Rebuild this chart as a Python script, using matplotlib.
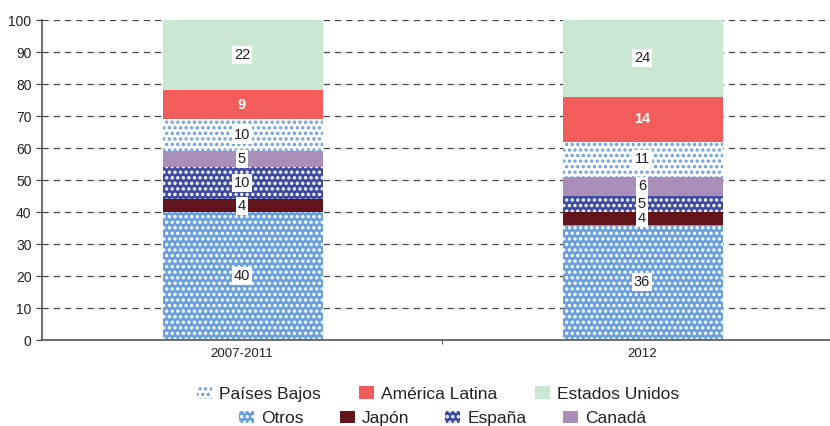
import matplotlib.pyplot as plt
from matplotlib.patches import Patch

plt.rcParams['font.family'] = ['Liberation Sans', 'DejaVu Sans']
plt.rcParams['hatch.linewidth'] = 1.6

periods = ['2007-2011', '2012']
series = ['Otros', 'Japón', 'España', 'Canadá', 'Países Bajos', 'América Latina', 'Estados Unidos']
otros = [40, 36]
japon = [4, 4]
espana = [10, 5]
canada = [5, 6]
paises_bajos = [10, 11]
america_latina = [9, 14]
estados_unidos = [22, 24]
values = [otros, japon, espana, canada, paises_bajos, america_latina, estados_unidos]

# face, hatch colour, hatch
styles = {
    'Otros': ('#6a9fdb', 'white', '...'),
    'Japón': ('#62141b', None, None),
    'España': ('#3c4ba0', 'white', '...'),
    'Canadá': ('#a98eb8', None, None),
    'Países Bajos': ('white', '#6a9fdb', '...'),
    'América Latina': ('#f25c5b', None, None),
    'Estados Unidos': ('#c9e7d2', None, None),
}

fig = plt.figure(figsize=(8.3, 4.26), dpi=100)
ax = fig.add_axes([42 / 830, 86 / 426, 800 / 830, 320 / 426])
ax.set_axisbelow(True)

x = range(len(periods))
bottom = [0, 0]
for name, vals in zip(series, values):
    face, hcol, hatch = styles[name]
    ax.bar([i + 0.003 for i in x], vals, width=0.4, bottom=bottom, color=face,
           edgecolor=hcol if hcol else face, linewidth=0, hatch=hatch)
    for i, v in enumerate(vals):
        yc = bottom[i] + v / 2
        if name == 'América Latina':
            ax.text(i, yc, str(v), ha='center', va='center', fontsize=10.5,
                    color='white', fontweight='bold')
        else:
            ax.text(i, yc, str(v), ha='center', va='center', fontsize=10.5,
                    color='#222222',
                    bbox=dict(facecolor='white', edgecolor='none', pad=1.5))
    bottom = [b + v for b, v in zip(bottom, vals)]

ax.set_xlim(-0.5, 1.5)
ax.set_ylim(0, 100)
ax.set_yticks(range(0, 101, 10))
ax.yaxis.grid(True, linestyle=(0, (5, 4)), color='#444444', linewidth=0.9)
ax.set_xticks(list(x))
ax.set_xticklabels(periods)
ax.set_xticks([0.5], minor=True)
ax.tick_params(axis='x', which='major', length=0, pad=6, labelsize=9.5, colors='#222222')
ax.tick_params(axis='x', which='minor', length=3, color='#333333')
ax.tick_params(axis='y', length=4, labelsize=10, colors='#222222', color='#333333')
for s in ['top', 'right']:
    ax.spines[s].set_visible(False)
for s in ['left', 'bottom']:
    ax.spines[s].set_color('#555555')
    ax.spines[s].set_linewidth(1.2)

def handle(name):
    face, hcol, hatch = styles[name]
    return Patch(facecolor=face, edgecolor=hcol if hcol else face, linewidth=0, hatch=hatch)

row1 = ['Países Bajos', 'América Latina', 'Estados Unidos']
row2 = ['Otros', 'Japón', 'España', 'Canadá']
leg1 = fig.legend([handle(n) for n in row1], row1, loc='center', ncol=3,
                  bbox_to_anchor=(0.528, 0.075), frameon=False, fontsize=12.5,
                  handlelength=0.86, handleheight=0.75, handletextpad=0.4,
                  columnspacing=2.2, labelcolor='#222222')
leg2 = fig.legend([handle(n) for n in row2], row2, loc='center', ncol=4,
                  bbox_to_anchor=(0.533, 0.018), frameon=False, fontsize=12.5,
                  handlelength=0.86, handleheight=0.75, handletextpad=0.4,
                  columnspacing=2.1, labelcolor='#222222')

fig.savefig('out.png', dpi=100)
